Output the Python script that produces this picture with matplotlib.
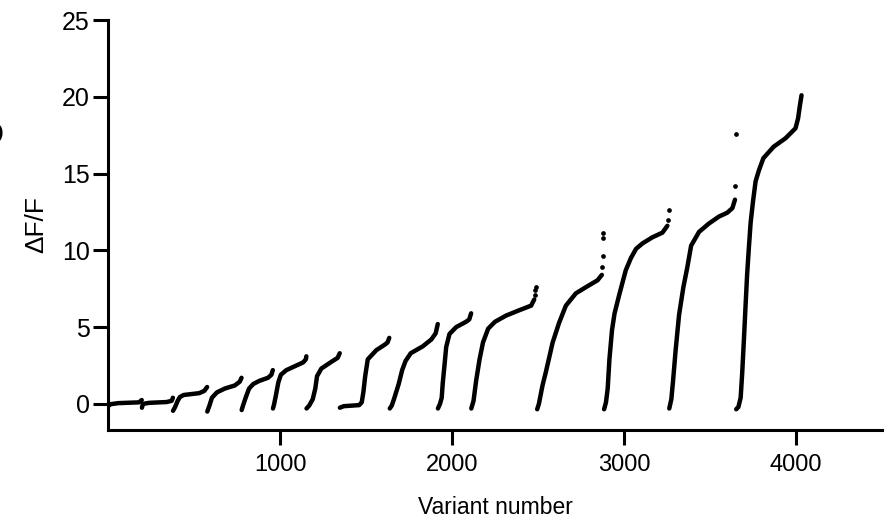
import matplotlib.pyplot as plt

# Sorted dF/F runs, one run per library.
# Each run: variant numbers (x) and dF/F values (y).
run01_v = [0, 15, 60, 180, 196]
run01_y = [-0.15, -0.02, 0.05, 0.1, 0.25]
run02_v = [197, 203, 240, 340, 370, 377]
run02_y = [-0.25, 0.0, 0.07, 0.12, 0.2, 0.4]
run03_v = [378, 390, 405, 418, 440, 530, 560, 576]
run03_y = [-0.45, -0.2, 0.2, 0.45, 0.58, 0.7, 0.85, 1.1]
run04_v = [577, 590, 604, 633, 679, 737, 766, 776]
run04_y = [-0.5, -0.1, 0.4, 0.75, 1.0, 1.2, 1.45, 1.7]
run05_v = [777, 785, 800, 820, 845, 880, 930, 950, 958]
run05_y = [-0.4, -0.1, 0.4, 1.0, 1.3, 1.5, 1.7, 1.9, 2.2]
run06_v = [959, 965, 975, 990, 1005, 1037, 1095, 1134, 1150, 1153]
run06_y = [-0.3, -0.05, 0.5, 1.4, 1.9, 2.2, 2.5, 2.7, 2.9, 3.1]
run07_v = [1154, 1170, 1190, 1205, 1215, 1240, 1300, 1335, 1347]
run07_y = [-0.3, -0.1, 0.3, 1.0, 1.8, 2.3, 2.75, 3.0, 3.3]
run08_v = [1348, 1370, 1460, 1475, 1485, 1495, 1510, 1560, 1608, 1625, 1635]
run08_y = [-0.25, -0.15, -0.08, 0.1, 0.8, 1.8, 2.9, 3.5, 3.85, 4.0, 4.3]
run09_v = [1638, 1650, 1665, 1690, 1710, 1730, 1760, 1830, 1880, 1905, 1917]
run09_y = [-0.3, -0.1, 0.4, 1.3, 2.2, 2.8, 3.3, 3.75, 4.2, 4.6, 5.2]
run10_v = [1918, 1930, 1940, 1946, 1956, 1966, 1985, 2024, 2082, 2100, 2111]
run10_y = [-0.3, 0.0, 0.4, 1.35, 2.5, 3.7, 4.55, 5.0, 5.35, 5.5, 5.9]
run11_v = [2112, 2125, 2140, 2160, 2180, 2210, 2250, 2314, 2391, 2460, 2478]
run11_y = [-0.3, 0.2, 1.5, 2.9, 4.0, 4.9, 5.35, 5.75, 6.1, 6.4, 6.8]
run12_v = [2495, 2505, 2526, 2546, 2585, 2623, 2662, 2720, 2778, 2846, 2871]
run12_y = [-0.35, 0.0, 1.2, 2.1, 4.0, 5.3, 6.4, 7.2, 7.6, 8.05, 8.4]
run13_v = [2884, 2895, 2905, 2915, 2930, 2945, 2972, 3010, 3040, 3070,
           3107, 3165, 3223, 3252]
run13_y = [-0.35, 0.1, 1.0, 2.9, 4.8, 5.9, 7.1, 8.7, 9.5, 10.1,
           10.45, 10.85, 11.15, 11.6]
run14_v = [3263, 3275, 3285, 3300, 3320, 3345, 3368, 3390, 3436, 3494,
           3552, 3600, 3630, 3645]
run14_y = [-0.3, 0.3, 1.5, 3.5, 5.8, 7.6, 8.9, 10.3, 11.2, 11.75,
           12.2, 12.45, 12.75, 13.3]
run15_v = [3652, 3665, 3678, 3687, 3697, 3707, 3716, 3726, 3736, 3750,
           3765, 3784, 3810, 3870, 3939, 3997, 4012, 4022, 4032]
run15_y = [-0.35, -0.2, 0.4, 2.0, 4.2, 6.5, 8.5, 10.2, 11.8, 13.2,
           14.5, 15.2, 16.0, 16.75, 17.3, 17.95, 18.6, 19.4, 20.1]

# isolated top-end variants that sit above the runs
tail_v = [2482, 2485, 2487, 2874, 2876, 2878, 2879, 3256, 3260, 3647, 3649]
tail_y = [7.1, 7.4, 7.6, 8.9, 9.6, 10.8, 11.1, 12.0, 12.6, 14.2, 17.6]

x_ticks = [1000, 2000, 3000, 4000]
y_ticks = [0, 5, 10, 15, 20, 25]

runs = [
    (run01_v, run01_y), (run02_v, run02_y), (run03_v, run03_y),
    (run04_v, run04_y), (run05_v, run05_y), (run06_v, run06_y),
    (run07_v, run07_y), (run08_v, run08_y), (run09_v, run09_y),
    (run10_v, run10_y), (run11_v, run11_y), (run12_v, run12_y),
    (run13_v, run13_y), (run14_v, run14_y), (run15_v, run15_y),
]

FONT = ["Liberation Sans", "DejaVu Sans"]

fig = plt.figure(figsize=(8.87, 5.24), dpi=100)
ax = fig.add_axes([0.1218, 0.1794, 0.8726, 0.7824])

for xs, ys in runs:
    ax.plot(xs, ys, color="black", lw=3.2,
            solid_capstyle="round", solid_joinstyle="round")
ax.plot(tail_v, tail_y, "o", color="black", ms=3.4, mew=0)

ax.set_xlim(0, 4500)
ax.set_ylim(-1.7, 25)
ax.set_xticks(x_ticks)
ax.set_yticks(y_ticks)

for side in ("top", "right"):
    ax.spines[side].set_visible(False)
for side in ("left", "bottom"):
    ax.spines[side].set_linewidth(2.2)

ax.tick_params(axis="both", length=11, width=2.2, direction="out")
ax.tick_params(axis="y", pad=2)
ax.tick_params(axis="x", pad=6)

for lab in ax.get_yticklabels():
    lab.set_family(FONT)
    lab.set_fontsize(18)
for lab in ax.get_xticklabels():
    lab.set_family(FONT)
    lab.set_fontsize(17)

ax.set_ylabel("ΔF/F", fontsize=19, family=FONT, labelpad=10)
ax.set_xlabel("Variant number", fontsize=16.5, family=FONT, labelpad=15)

# clipped panel letter at the far left edge
fig.text(0.004, 0.74, "D", ha="right", va="center", fontsize=22, family=FONT)

fig.savefig("out.png", dpi=100, facecolor="white")
